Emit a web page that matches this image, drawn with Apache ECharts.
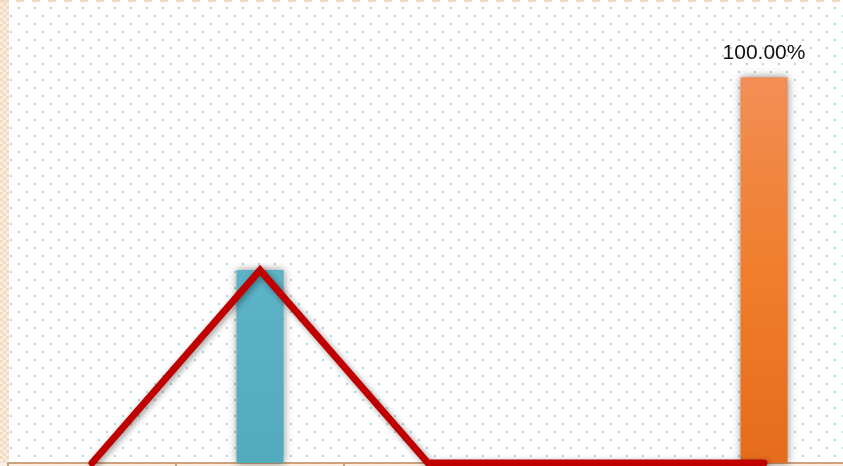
<!DOCTYPE html>
<html>
<head>
<meta charset="utf-8">
<script src="https://cdn.jsdelivr.net/npm/echarts@6/dist/echarts.min.js"></script>
<style>
html,body{margin:0;padding:0;background:#fff;overflow:hidden;width:843px;height:466px;}
#c{width:850px;height:466px;}
</style>
</head>
<body>
<div id="c"></div>
<script>
// ---- data ----
const categories = ['1', '2', '3', '4', '5'];
const barValues = [null, 0.5, null, null, 1.0];
const lineValues = [0, 0.5, 0, 0, 0];
const barLabels = [null, null, null, null, '100.00%'];

// ---- decorative background (dots + borders) ----
(function(){
  const W = 850, H = 466;
  const cv = document.createElement('canvas');
  cv.width = W; cv.height = H;
  const g = cv.getContext('2d');
  g.fillStyle = '#fff'; g.fillRect(0,0,W,H);
  g.fillStyle = '#a9d9d9';
  for (let y = 0; y < H; y += 16) {
    for (let x = 0; x < W; x += 16) {
      g.fillRect(x + 2, y + 7, 2, 2);
      g.fillRect(x + 10, y + 15, 2, 2);
    }
  }
  // left checker strip
  for (let y = 0; y < H; y += 3) {
    for (let x = 0; x < 9; x += 3) {
      g.fillStyle = (((x + y) / 3) % 2 === 0) ? '#f4dac1' : '#fbeee2';
      g.fillRect(x, y, 3, 3);
    }
  }
  // bottom checker strip
  for (let y = 463; y < H; y += 3) {
    for (let x = 0; x < W; x += 3) {
      g.fillStyle = (((x + y) / 3) % 2 === 0) ? '#f4dac1' : '#fbeee2';
      g.fillRect(x, y, 3, 3);
    }
  }
  // top dashed border
  g.fillStyle = '#f4d9bf';
  for (let x = 0; x < W; x += 16) g.fillRect(x, 0, 8, 2);
  document.getElementById('c').style.background = 'url(' + cv.toDataURL() + ')';
})();

const chart = echarts.init(document.getElementById('c'), null, {renderer: 'canvas'});
const barColors = [
  null,
  new echarts.graphic.LinearGradient(0,0,0,1,[{offset:0,color:'#5cb4c6'},{offset:1,color:'#52aabd'}]),
  null, null,
  new echarts.graphic.LinearGradient(0,0,0,1,[{offset:0,color:'#f28e56'},{offset:0.5,color:'#f07e2c'},{offset:1,color:'#e56c1c'}])
];
chart.setOption({
  backgroundColor: 'transparent',
  animation: false,
  grid: {left: 8, width: 840, top: 0, bottom: 3, containLabel: false},
  xAxis: {
    type: 'category',
    data: categories,
    axisLine: {show: true, lineStyle: {color: '#c9a27f', width: 2}},
    axisTick: {show: true, length: 3, lineStyle: {color: '#c9a27f', width: 2}},
    axisLabel: {show: false},
    splitLine: {show: false}
  },
  yAxis: {
    type: 'value', min: 0, max: 1.2,
    show: false
  },
  series: [
    {
      type: 'bar',
      barWidth: 47,
      data: barValues.map((v, i) => v == null ? null : {
        value: v,
        itemStyle: {color: barColors[i], shadowColor: 'rgba(0,0,0,0.45)', shadowBlur: 8},
        label: barLabels[i] ? {
          show: true, position: 'top', distance: 13,
          formatter: barLabels[i],
          fontFamily: 'Liberation Sans, Arial, sans-serif',
          fontSize: 21, color: '#111'
        } : {show: false}
      }),
      z: 2
    },
    {
      type: 'line',
      data: lineValues,
      symbol: 'none',
      clip: false,
      lineStyle: {color: '#c00000', width: 7, cap: 'round', join: 'miter',
        shadowColor: 'rgba(0,0,0,0.4)', shadowBlur: 6, shadowOffsetX: 2, shadowOffsetY: 2},
      z: 3
    }
  ]
});
</script>
</body>
</html>
